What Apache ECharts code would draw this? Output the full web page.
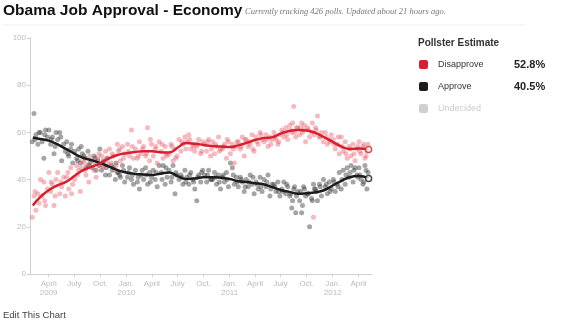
<!DOCTYPE html>
<html><head><meta charset="utf-8">
<script src="https://cdn.jsdelivr.net/npm/echarts@6/dist/echarts.min.js"></script>
<style>html,body{margin:0;padding:0;background:#fff;}#c{width:570px;height:321px;}</style>
</head><body><div id="c"></div>
<script>
// ---- data ----
const trendDates = ['2009-02-04','2009-03-01','2009-04-01','2009-05-01','2009-06-01','2009-07-01','2009-08-01','2009-09-01','2009-10-01','2009-11-01','2009-12-01',
 '2010-01-01','2010-02-01','2010-03-01','2010-04-01','2010-05-01','2010-06-01','2010-07-01','2010-08-01','2010-09-01','2010-10-01','2010-11-01','2010-12-01',
 '2011-01-01','2011-02-01','2011-03-01','2011-04-01','2011-05-01','2011-06-01','2011-07-01','2011-08-01','2011-09-01','2011-10-01','2011-11-01','2011-12-01',
 '2012-01-01','2012-02-01','2012-03-01','2012-04-01','2012-05-07'];
const disapproveTrend = [29,32.5,35.5,37.5,39,41.5,44,45.5,47,49,50.4,51.2,51.7,52,52,51.6,51.5,53.5,55.5,55.2,54.7,54.2,54,53.8,54.5,55.5,56.8,57.6,58,59.5,60.6,61,60.8,59.8,58,56,54,53,53.2,52.8];
const approveTrend = [57.8,57.2,56.5,55,53,51,49.2,48.2,47,45.5,44,43,42.4,42.2,42,42.5,43,41.5,40.3,40.5,41,41,40.8,40.3,39.3,39,38.5,38,36.8,35.6,34.8,34,34.2,34.6,35.5,37.5,39.5,41,41.5,40.5];

const pollDates = [
 '2009-02-02','2009-02-08','2009-02-15','2009-02-22','2009-02-26',
 '2009-03-03','2009-03-09','2009-03-15','2009-03-21','2009-03-28',
 '2009-04-02','2009-04-08','2009-04-14','2009-04-20','2009-04-27',
 '2009-05-03','2009-05-10','2009-05-17','2009-05-24','2009-05-30',
 '2009-06-04','2009-06-11','2009-06-18','2009-06-25',
 '2009-07-02','2009-07-09','2009-07-16','2009-07-22','2009-07-29',
 '2009-08-04','2009-08-11','2009-08-18','2009-08-25',
 '2009-09-02','2009-09-09','2009-09-16','2009-09-22','2009-09-29',
 '2009-10-05','2009-10-12','2009-10-19','2009-10-26',
 '2009-11-02','2009-11-09','2009-11-16','2009-11-23','2009-11-30',
 '2009-12-04','2009-12-11','2009-12-18','2009-12-26',
 '2010-01-05','2010-01-12','2010-01-19','2010-01-26',
 '2010-02-02','2010-02-09','2010-02-16','2010-02-23',
 '2010-03-03','2010-03-10','2010-03-17','2010-03-24','2010-03-31',
 '2010-04-06','2010-04-13','2010-04-20','2010-04-27',
 '2010-05-04','2010-05-11','2010-05-18','2010-05-25',
 '2010-06-01','2010-06-08','2010-06-15','2010-06-22','2010-06-29',
 '2010-07-06','2010-07-13','2010-07-20','2010-07-27',
 '2010-08-03','2010-08-10','2010-08-17','2010-08-24','2010-08-31',
 '2010-09-07','2010-09-14','2010-09-21','2010-09-28',
 '2010-10-05','2010-10-12','2010-10-19','2010-10-26',
 '2010-11-02','2010-11-09','2010-11-16','2010-11-23','2010-11-30',
 '2010-12-07','2010-12-14','2010-12-21','2010-12-28',
 '2011-01-04','2011-01-11','2011-01-18','2011-01-25',
 '2011-02-01','2011-02-08','2011-02-15','2011-02-22',
 '2011-03-01','2011-03-08','2011-03-15','2011-03-22','2011-03-29',
 '2011-04-05','2011-04-12','2011-04-19','2011-04-26',
 '2011-05-03','2011-05-10','2011-05-17','2011-05-24','2011-05-31',
 '2011-06-07','2011-06-14','2011-06-21','2011-06-28',
 '2011-07-05','2011-07-12','2011-07-19','2011-07-26',
 '2011-08-02','2011-08-09','2011-08-16','2011-08-23','2011-08-30',
 '2011-09-06','2011-09-13','2011-09-20','2011-09-27',
 '2011-10-04','2011-10-11','2011-10-18','2011-10-25',
 '2011-11-01','2011-11-08','2011-11-15','2011-11-22','2011-11-29',
 '2011-12-06','2011-12-13','2011-12-20','2011-12-27',
 '2012-01-03','2012-01-10','2012-01-17','2012-01-24','2012-01-31',
 '2012-02-07','2012-02-14','2012-02-21','2012-02-28',
 '2012-03-06','2012-03-13','2012-03-20','2012-03-27',
 '2012-04-03','2012-04-10','2012-04-17','2012-04-24',
 '2012-05-01','2012-05-05',
 '2009-02-12','2009-03-18','2009-04-10','2009-04-24','2009-05-14','2009-06-08','2009-06-21','2009-07-12','2009-07-25',
 '2009-08-08','2009-08-21','2009-09-12','2009-09-26','2009-10-09','2009-10-22','2009-11-12','2009-11-26','2009-12-08','2009-12-22',
 '2010-01-08','2010-01-22','2010-02-12','2010-02-26','2010-03-13','2010-03-27','2010-04-16','2010-05-07','2010-05-21','2010-06-11',
 '2010-06-25','2010-07-16','2010-07-30','2010-08-13','2010-08-27','2010-09-10','2010-09-24','2010-10-15','2010-10-29','2010-11-12',
 '2010-11-26','2010-12-10','2010-12-24','2011-01-14','2011-01-28','2011-02-11','2011-02-25','2011-03-11','2011-03-25','2011-04-08',
 '2011-04-22','2011-05-13','2011-05-27','2011-06-10','2011-06-24','2011-07-08','2011-07-22','2011-08-05','2011-08-12','2011-08-19',
 '2011-08-26','2011-09-09','2011-09-16','2011-09-23','2011-10-07','2011-10-21','2011-10-28','2011-11-04','2011-11-18','2011-12-09',
 '2011-12-23','2012-01-06','2012-01-20','2012-02-03','2012-02-17','2012-03-02','2012-03-16','2012-03-30','2012-04-06','2012-04-20',
 '2012-04-28'];
const disapprovePolls = [
 24,33,27,34,30, 40,33,39,29,36, 43,35,38,29,40, 43,34,37,41,33, 41,36,45,38,
 40,46,44,35,48, 47,42,46,50, 48,44,41,49,46, 50,45,52,47, 53,47,50,44,55, 52,48,54,51,
 55,50,61,49, 53,49,56,51, 54,50,62,48,55, 50,53,47,56, 52,49,54,50, 51,55,48,53,50,
 57,52,55,58, 56,59,53,55,52, 54,57,51,56, 55,52,57,50, 56,51,54,58,53, 53,55,49,56,
 51,55,47,54, 56,53,58,50, 57,54,55,59,52, 58,55,60,57, 56,59,54,58,57, 60,57,55,59,
 61,58,62,57, 63,60,71,58,62, 59,64,61,56, 62,58,60,24, 62,67,58,60,56, 60,55,57,59,
 57,53,55,51,58, 52,56,49,54, 50,55,48,53, 56,51,54,49, 52,55,
 35,31,39,33,39,43,34,42,45, 44,39,47,51,46,49,51,46,53,49,
 52,54,50,53,51,57,54,55,51,54, 49,56,53,57,54,55,52,56,53,55,
 52,54,57,53,56,54,57,56,53,56, 59,57,55,58,56,60,59,61,64,60,
 62,62,60,63,61,64,59,61,58,58, 56,55,58,54,51,53,51,54,52,55, 50];
const approvePolls = [
 56,68,59,55,60, 60,56,49,61,58, 61,55,58,51,60, 57,60,48,55,52, 56,50,53,47,
 52,49,53,47,51, 50,45,52,47, 45,50,44,48,53, 44,48,42,49, 42,46,45,40,43, 43,41,46,39,
 41,45,40,38, 44,39,36,42, 40,45,38,43,41, 44,40,37,46, 43,46,38,41, 44,39,46,34,42,
 40,42,38,44, 41,38,43,40,36, 31,42,39,44, 42,39,44,40, 40,43,38,42,36, 41,39,43,37,
 47,45,38,41, 37,41,39,35, 40,37,42,38,34, 39,36,41,35, 40,37,42,33,38, 38,35,39,33,
 36,39,34,37, 33,28,36,26,35, 31,26,37,33, 34,20,32,38, 36,31,38,33,40, 37,34,39,36,
 40,35,38,43,36, 44,38,45,41, 46,39,45,42, 45,40,38,46, 36,43,
 57,59,57,54,58,51,55,48,54, 49,46,49,46,47,45,44,47,42,44,
 43,42,41,44,42,39,43,40,45,41, 43,41,39,42,39,41,43,42,40,41,
 39,42,40,42,39,40,37,39,41,38, 37,39,36,37,35,35,38,34,31,37,
 33,35,29,36,34,31,36,35,37,38, 35,39,37,40,42,43,44,41,42,39, 44];

const xTickDates = ['2009-04-01','2009-07-01','2009-10-01','2010-01-01','2010-04-01','2010-07-01','2010-10-01','2011-01-01','2011-04-01','2011-07-01','2011-10-01','2012-01-01','2012-04-01'];
const xTickLabels = ['April\n2009','July','Oct.','Jan.\n2010','April','July','Oct.','Jan.\n2011','April','July','Oct.','Jan.\n2012','April'];
const yTicks = [0,20,40,60,80,100];
const legendNames = ['Disapprove','Approve','Undecided'];

// ---- chart ----
const ts = d => { const p = d.split('-').map(Number); return Date.UTC(p[0], p[1]-1, p[2]); };
const tickTs = xTickDates.map(ts);
const RED = '#d7202e', BLACK = '#1b1b1b';
const chart = echarts.init(document.getElementById('c'), null, {renderer:'canvas'});
const trendR = trendDates.map((d,i)=>[ts(d), disapproveTrend[i]]);
const trendA = trendDates.map((d,i)=>[ts(d), approveTrend[i]]);
const lastR = trendR[trendR.length-1], lastA = trendA[trendA.length-1];

const legendY = [64, 86, 108];
const legendColors = [RED, BLACK, '#d0d0d0'];
const legendValues = [lastR[1].toFixed(1)+'%', lastA[1].toFixed(1)+'%', ''];
const graphics = [
 {type:'text', left:3, top:3, style:{text:'Obama Job Approval - Economy', font:'bold 15.5px "Liberation Sans", Arial, sans-serif', fill:'#111'}},
 {type:'text', left:245, top:7, style:{text:'Currently tracking 426 polls. Updated about 21 hours ago.', font:'italic 8.5px "Liberation Serif", serif', fill:'#777'}},
 {type:'line', shape:{x1:3,y1:25,x2:525,y2:25}, style:{stroke:'#eeeeee', lineWidth:1}},
 {type:'text', left:418, top:38, style:{text:'Pollster Estimate', font:'bold 10px "Liberation Sans", Arial, sans-serif', fill:'#333'}},
 {type:'text', left:3, top:310, style:{text:'Edit This Chart', font:'9.5px "Liberation Sans", Arial, sans-serif', fill:'#444'}}
];
legendNames.forEach((n,i)=>{
  graphics.push({type:'rect', shape:{x:419, y:legendY[i]-4, width:9, height:9, r:2}, style:{fill:legendColors[i]}});
  graphics.push({type:'text', x:438, y:legendY[i]+0.5, style:{text:n, font:'9px "Liberation Sans", Arial, sans-serif', fill: i===2?'#cccccc':'#333', verticalAlign:'middle'}});
  if (legendValues[i]) graphics.push({type:'text', x:514, y:legendY[i]+0.5, style:{text:legendValues[i], font:'bold 11px "Liberation Sans", Arial, sans-serif', fill:'#222', verticalAlign:'middle'}});
});

chart.setOption({
  animation:false,
  backgroundColor:'#fff',
  grid:{left:30, right:198, top:38, bottom:47, containLabel:false},
  xAxis:{
    type:'value', min: ts('2009-01-25'), max: ts('2012-05-19'), scale:true,
    axisLine:{lineStyle:{color:'#cfcfcf'}},
    axisTick:{show:true, customValues: tickTs, length:3, lineStyle:{color:'#cfcfcf'}},
    axisLabel:{customValues: tickTs, color:'#bbbbbb', fontSize:8, lineHeight:9, margin:5,
      fontFamily:'"Liberation Sans", Arial, sans-serif',
      formatter: v => { const i = tickTs.indexOf(v); return i>=0 ? xTickLabels[i] : ''; }},
    splitLine:{show:false}
  },
  yAxis:{
    type:'value', min:0, max:100, interval:20,
    axisLine:{show:true, lineStyle:{color:'#cfcfcf'}},
    axisTick:{show:true, length:3, lineStyle:{color:'#cfcfcf'}},
    axisLabel:{color:'#bbbbbb', fontSize:8, margin:4, fontFamily:'"Liberation Sans", Arial, sans-serif',
      formatter: v => yTicks.indexOf(v)>=0 ? String(v) : ''},
    splitLine:{show:false}
  },
  graphic: graphics,
  series:[
    {type:'scatter', name:'Approve polls', data: pollDates.map((d,i)=>[ts(d), approvePolls[i]]), symbolSize:5,
      itemStyle:{color:'rgba(50,50,50,0.55)'}, z:2},
    {type:'scatter', name:'Disapprove polls', data: pollDates.map((d,i)=>[ts(d), disapprovePolls[i]]), symbolSize:5,
      itemStyle:{color:'rgba(230,80,95,0.5)'}, z:2},
    {type:'line', name:'Approve', data: trendA, smooth:0.5, showSymbol:false, lineStyle:{color:BLACK, width:2.5}, z:3},
    {type:'line', name:'Disapprove', data: trendR, smooth:0.5, showSymbol:false, lineStyle:{color:RED, width:2.5}, z:3},
    {type:'scatter', data:[lastA], symbol:'circle', symbolSize:6, itemStyle:{color:'#fff', borderColor:BLACK, borderWidth:1.5}, z:4},
    {type:'scatter', data:[lastR], symbol:'circle', symbolSize:6, itemStyle:{color:'#fff', borderColor:RED, borderWidth:1.5}, z:4}
  ]
});
</script></body></html>
